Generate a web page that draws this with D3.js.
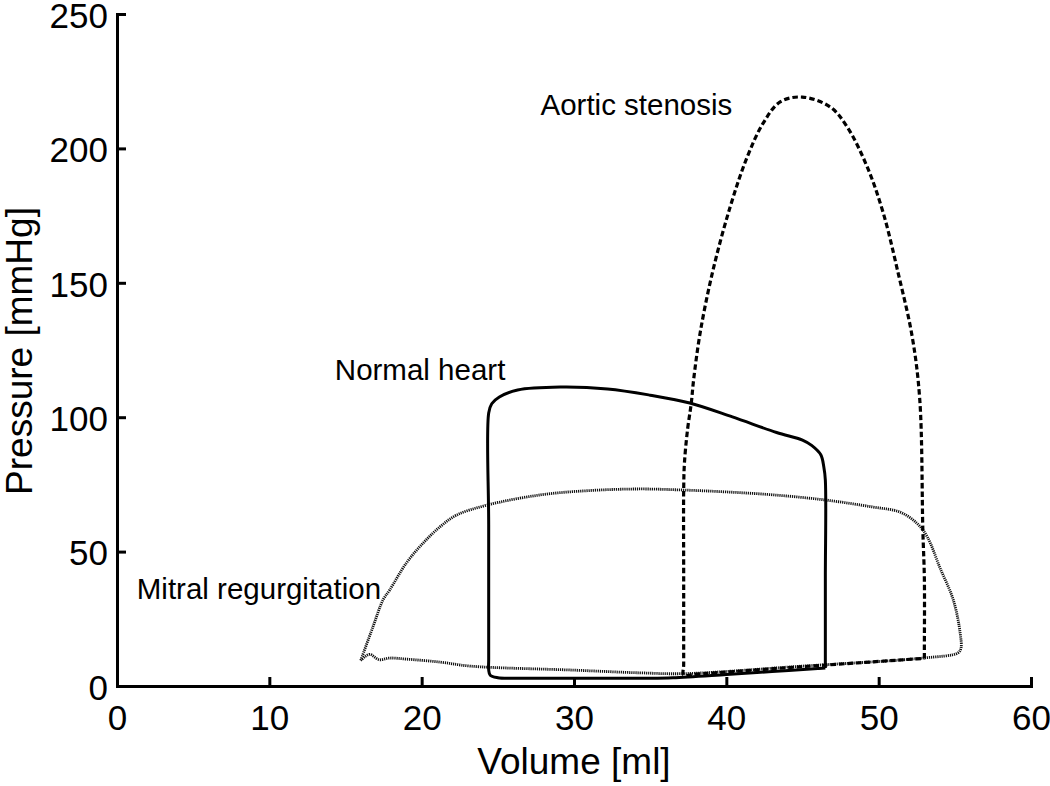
<!DOCTYPE html>
<html>
<head>
<meta charset="utf-8">
<script src="https://cdn.jsdelivr.net/npm/d3@7"></script>
<style>
  html, body { margin: 0; padding: 0; background: #fff; }
  svg { display: block; }
  text { font-family: "Liberation Sans", Arial, Helvetica, sans-serif; fill: #000; }
</style>
</head>
<body>
<svg id="chart" width="1050" height="786"></svg>
<script>
// ---- data (volume [ml], pressure [mmHg]) ----
const normalHeart = [
  [46.5, 6.7], [46.5, 10], [46.5, 40], [46.5, 76.6], [46.4, 81.5], [46.2, 86], [45.6, 89.5],
  [45.0, 91.5], [43.3, 94.3], [40.4, 100.1], [37.6, 105.3], [35.0, 108.2],
  [32.2, 110.5], [29.1, 111.2], [26.3, 110.1], [25.1, 107.5], [24.6, 105],
  [24.4, 101.6], [24.4, 60], [24.4, 10], [24.4, 6], [24.5, 4], [25.0, 3.1], [26.0, 2.9],
  [30.0, 2.9], [35.0, 2.9], [36.5, 3.1], [40.0, 4.3], [43.0, 5.4], [46.0, 6.5], [46.5, 6.7]
];
const aorticStenosis = [
  [53.0, 10.3], [53.0, 14], [53.0, 40], [52.9, 58], [52.7, 106.4], [52.2, 130], [51.28, 153.6],
  [50.3, 176], [49.25, 193.1], [47.93, 208], [46.82, 215.4], [44.98, 219.1],
  [43.53, 217.3], [42.42, 209.4], [41.37, 196.8], [40.25, 178.2], [39.13, 154.8],
  [38.3, 132], [37.85, 113.8], [37.7, 105.3], [37.45, 95.2], [37.25, 83],
  [37.2, 73], [37.2, 40], [37.2, 8], [37.2, 4.1], [38.0, 4.4], [45.0, 7.2], [52.5, 10.1], [53.0, 10.3]
];
const mitralRegurgitation = [
  [16.0, 9.5], [16.8, 22], [17.46, 32], [17.9, 35.7], [19.0, 45.8], [20.1, 53.2],
  [21.2, 59.2], [22.3, 63.6], [24.3, 67.3], [27.8, 71.1], [31.0, 72.7], [34.3, 73.3],
  [37.2, 72.9], [40.0, 72.2], [43.1, 71.1], [46.5, 69.2], [49.6, 66.6], [51.4, 64.7],
  [52.5, 60.6], [53.2, 55.4], [54.0, 44.3], [54.9, 32], [55.35, 19.7], [55.4, 14],
  [55.2, 12.3], [52.9, 10.4], [45.0, 7.4], [37.2, 4.6], [34.3, 4.9], [30.0, 5.9],
  [23.2, 7.4], [21.2, 8.9], [19.0, 10.0], [17.9, 10.4], [17.2, 9.8], [16.6, 11.8],
  [16.3, 11.0], [16.0, 9.5]
];
const xTicks = [0, 10, 20, 30, 40, 50, 60];
const yTicks = [0, 50, 100, 150, 200, 250];
const labels = [
  { text: "Aortic stenosis", v: 27.8, p: 212.5 },
  { text: "Normal heart", v: 14.3, p: 114 },
  { text: "Mitral regurgitation", v: 1.3, p: 32.5 }
];

// ---- layout ----
const svg = d3.select("#chart");
const x = d3.scaleLinear().domain([0, 60]).range([117, 1031]);
const y = d3.scaleLinear().domain([0, 250]).range([686, 14]);

const line = d3.line()
  .x(d => x(d[0]))
  .y(d => y(d[1]))
  .curve(d3.curveCatmullRom.alpha(0.5));

// curves
svg.append("path").datum(mitralRegurgitation)
  .attr("d", line).attr("fill", "none")
  .attr("stroke", "#111").attr("stroke-width", 2.8)
  .attr("stroke-dasharray", "1.2,0.9");

svg.append("path").datum(aorticStenosis)
  .attr("d", line).attr("fill", "none")
  .attr("stroke", "#000").attr("stroke-width", 3.2)
  .attr("stroke-dasharray", "5.5,3");

svg.append("path").datum(normalHeart)
  .attr("d", line).attr("fill", "none")
  .attr("stroke", "#000").attr("stroke-width", 3)
  .attr("stroke-linejoin", "round");

// axes
const xAxis = d3.axisBottom(x).tickValues(xTicks).tickSizeInner(-9).tickSizeOuter(0).tickPadding(19);
const yAxis = d3.axisLeft(y).tickValues(yTicks).tickSizeInner(-9).tickSizeOuter(0).tickPadding(9);

const gx = svg.append("g").attr("transform", "translate(0,686)").call(xAxis);
const gy = svg.append("g").attr("transform", "translate(117,0)").call(yAxis);

[gx, gy].forEach(g => {
  g.select(".domain").attr("stroke", "#000").attr("stroke-width", 3).attr("stroke-linecap", "square");
  g.selectAll(".tick line").attr("stroke", "#000").attr("stroke-width", 3);
  g.selectAll(".tick text")
    .style("font-family", '"Liberation Sans", Arial, Helvetica, sans-serif')
    .style("font-size", "35px").attr("fill", "#000");
});
gy.selectAll(".tick text").attr("dy", "0.38em");

// axis titles
svg.append("text")
  .attr("x", 574).attr("y", 774)
  .attr("text-anchor", "middle")
  .style("font-size", "37px")
  .text("Volume [ml]");

svg.append("text")
  .attr("transform", "translate(32,351) rotate(-90)")
  .attr("text-anchor", "middle")
  .style("font-size", "37px")
  .text("Pressure [mmHg]");

// curve labels
svg.selectAll(".lbl").data(labels).enter().append("text")
  .attr("class", "lbl")
  .attr("x", d => x(d.v)).attr("y", d => y(d.p))
  .style("font-size", "29.5px")
  .text(d => d.text);
</script>
</body>
</html>
